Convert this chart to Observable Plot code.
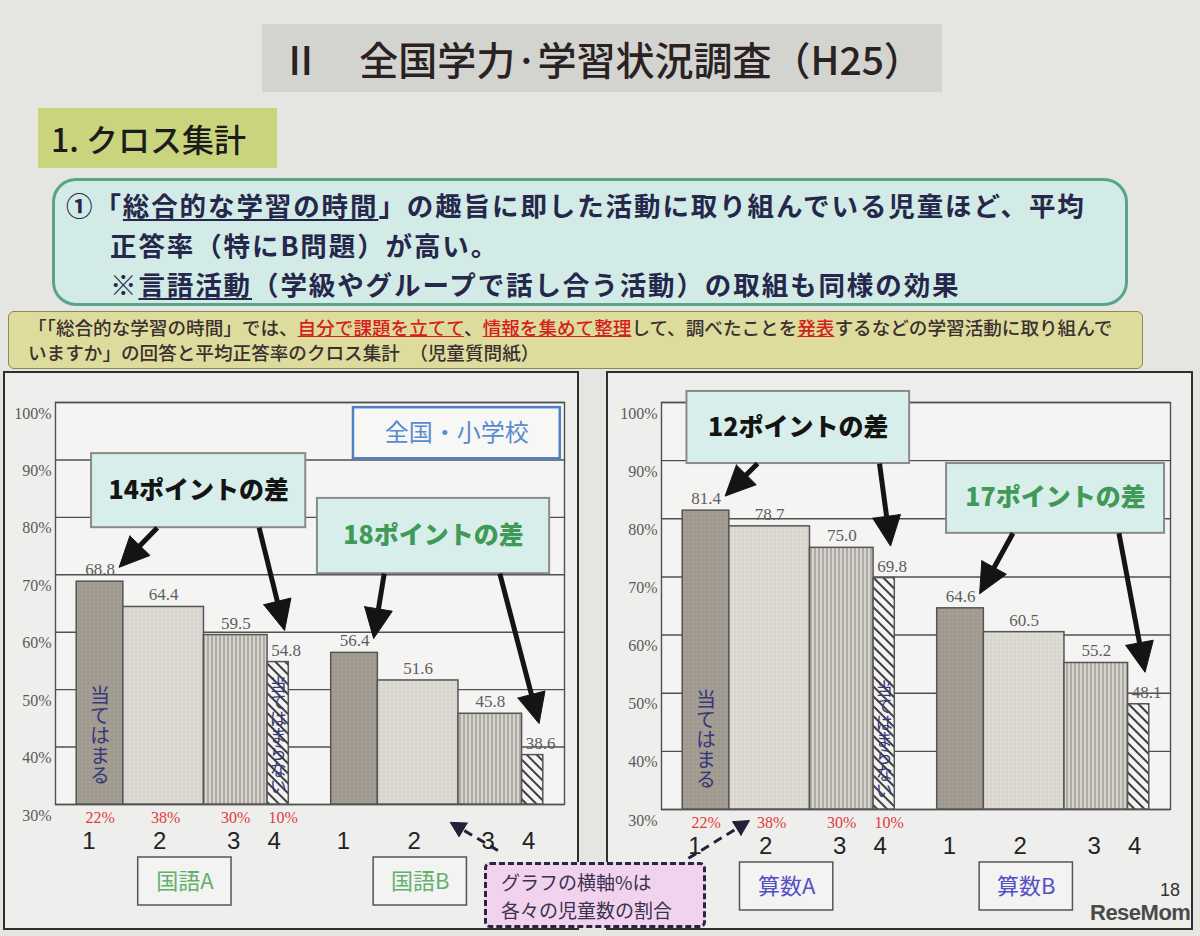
<!DOCTYPE html>
<html><head><meta charset="utf-8">
<script src="https://cdn.jsdelivr.net/npm/d3@7"></script>
<script src="https://cdn.jsdelivr.net/npm/@observablehq/plot@0.6"></script>
<style>
body{margin:0;width:1200px;height:936px;background:#e5e5e2;position:relative;overflow:hidden;font-family:"Noto Sans CJK JP",sans-serif;}
.abs{position:absolute;box-sizing:border-box;white-space:nowrap;}
.title{left:262px;top:24px;width:680px;height:68px;background:#d3d3d0;text-align:center;line-height:68px;font-size:39px;color:#2a2222;font-weight:500;}
.sect{left:38px;top:108px;width:239px;height:60px;background:#c9d47c;font-size:32px;line-height:60px;padding-left:13px;color:#1c1c1c;font-weight:500;}
.gbox{left:52px;top:178px;width:1076px;height:128px;border:3px solid #5aa48a;border-radius:24px;background:#d3ebe7;}
.gline{font-size:26.5px;font-weight:700;color:#25284a;line-height:38px;letter-spacing:1.9px;}
.u{text-decoration:underline;text-decoration-thickness:2px;text-underline-offset:3px;}
.ybox{left:8px;top:311px;width:1135px;height:58px;background:#dddc9c;border:1px solid #8a8a60;border-radius:6px;}
.yline{font-size:18.6px;color:#3a3030;line-height:24px;font-weight:500;}
.red{color:#d61e1e;text-decoration:underline;}
.panel{top:371px;height:559px;border:2px solid #2f2f2f;background:#eeeeec;}
.pink{left:484px;top:862px;width:222px;height:66px;background:#f2d3ee;border:3px dashed #2a2540;border-radius:6px;z-index:5;font-size:19px;color:#3a3050;line-height:28px;padding:3px 0 0 14px;}
.wm{left:1090px;top:900px;font:bold 22px "Liberation Sans",sans-serif;color:#4a4a4a;z-index:6;letter-spacing:-0.5px;}
.pg{left:1160px;top:880px;font:18px "Liberation Sans",sans-serif;color:#333;z-index:4;}
</style></head><body>
<svg width="0" height="0" style="position:absolute">
<defs>
<pattern id="pDark" width="4" height="4" patternUnits="userSpaceOnUse"><rect width="4" height="4" fill="#a39d94"/><circle cx="1" cy="1" r="0.7" fill="#8f8980"/></pattern>
<pattern id="pLight" width="4" height="4" patternUnits="userSpaceOnUse"><rect width="4" height="4" fill="#dddad3"/><circle cx="1" cy="1" r="0.7" fill="#c8c5be"/></pattern>
<pattern id="pVert" width="4" height="4" patternUnits="userSpaceOnUse"><rect width="4" height="4" fill="#d6d3cd"/><line x1="1" y1="0" x2="1" y2="4" stroke="#8e8a84" stroke-width="1.1"/></pattern>
<pattern id="pDiag" width="7" height="7" patternUnits="userSpaceOnUse" patternTransform="rotate(-45)"><rect width="7" height="7" fill="#f3f3f1"/><line x1="1" y1="0" x2="1" y2="7" stroke="#3e3e3e" stroke-width="2"/></pattern>
</defs></svg>

<div class="abs title">Ⅱ　全国学力·学習状況調査（H25）</div>
<div class="abs sect">1. クロス集計</div>
<div class="abs gbox"></div>
<div class="abs gline" style="left:66px;top:186px;">①「<span class="u">総合的な学習の時間</span>」の趣旨に即した活動に取り組んでいる児童ほど、平均</div>
<div class="abs gline" style="left:110px;top:225.5px;">正答率（特にB問題）が高い。</div>
<div class="abs gline" style="left:110px;top:265px;">※<span class="u">言語活動</span>（学級やグループで話し合う活動）の取組も同様の効果</div>
<div class="abs ybox"></div>
<div class="abs yline" style="left:28px;top:315px;">「「総合的な学習の時間」では、<span class="red">自分で課題を立てて</span>、<span class="red">情報を集めて整理</span>して、調べたことを<span class="red">発表</span>するなどの学習活動に取り組んで</div>
<div class="abs yline" style="left:28px;top:340px;">いますか」の回答と平均正答率のクロス集計　（児童質問紙）</div>
<div class="abs panel" style="left:3px;width:576px;"></div>
<div class="abs panel" style="left:606px;width:587px;"></div>
<div class="abs pink">グラフの横軸%は<br>各々の児童数の割合</div>
<div class="abs pg">18</div>
<div class="abs wm">ReseMom</div>

<script>
// ---- data ----
const subjects = ["国語A", "国語B", "算数A", "算数B"];
const responses = ["1", "2", "3", "4"];
const shares = [22, 38, 30, 10];            // % of pupils per response (bar width)
const scoresKokugoA = [68.8, 64.4, 59.5, 54.8];
const scoresKokugoB = [56.4, 51.6, 45.8, 38.6];
const scoresSansuA = [81.4, 78.7, 75.0, 69.8];
const scoresSansuB = [64.6, 60.5, 55.2, 48.1];
const yTicks = [30, 40, 50, 60, 70, 80, 90, 100];
const gapLabels = ["14ポイントの差", "18ポイントの差", "12ポイントの差", "17ポイントの差"];
const inBarLabels = ["当てはまる", "当てはまらない"];
const locationLabel = "全国・小学校";

// ---- layout ----
const fills = ["url(#pDark)", "url(#pLight)", "url(#pVert)", "url(#pDiag)"];
const groupStarts = [10, 130];
const numDx = [-11, -4, -2, -4];   // px
const pctDx = [0, 2, 0, 5];        // px
const valDx = [0, 0, 0, 8];        // px
const panels = [
  {subjects: [0, 1], scores: [scoresKokugoA, scoresKokugoB], left: 3, top: 371, width: 576, height: 559,
   m: {l: 52, r: 15, t: 31, b: 126}, subjColor: "#62b06e", subjCenters: [51, 42],
   callouts: [{x1: 17, x2: 118, y1: 78.2, y2: 91.1, tails: [48, 96]}, {x1: 123.5, x2: 233, y1: 70.2, y2: 83.3, tails: [155, 209.5]}],
   location: {x1: 140.5, x2: 238, y1: 90.2, y2: 99.1},
   dashed: {x1: 208.6, y1: 22, x2: 186.1, y2: 26.9}},
  {subjects: [2, 3], scores: [scoresSansuA, scoresSansuB], left: 606, top: 371, width: 587, height: 559,
   m: {l: 55, r: 23, t: 31, b: 121}, subjColor: "#5450c4", subjCenters: [49, 42],
   callouts: [{x1: 12, x2: 117, y1: 89.5, y2: 101.9, tails: [45.3, 102.8]}, {x1: 134.4, x2: 237.2, y1: 77.5, y2: 89.5, tails: [165.7, 215.7]}],
   location: null,
   dashed: {x1: 12.7, y1: 21.6, x2: 41.5, y2: 28.1}}
];
const calloutColors = ["#141414", "#3f9a58"];

function arrowParts(a, kx, ky, L, W, id) {
  const dxp = (a.x2 - a.x1) * kx, dyp = -(a.y2 - a.y1) * ky;
  const len = Math.hypot(dxp, dyp), ux = dxp / len, uy = dyp / len;
  const toU = (ox, oy) => ({x: a.x2 + ox / kx, y: a.y2 - oy / ky, id});
  const bx = -ux * L, by = -uy * L, px = -uy, py = ux;
  const end = toU(-ux * L * 0.6, -uy * L * 0.6);
  const w1 = toU(bx + px * W, by + py * W), w2 = toU(bx - px * W, by - py * W);
  return {shaft: {x1: a.x1, y1: a.y1, x2: end.x, y2: end.y}, head: [w1, toU(0, 0), w2, w1]};
}

panels.forEach((P, pi) => {
  const kx = (P.width - P.m.l - P.m.r) / 240, ky = (P.height - P.m.t - P.m.b) / 70;
  const below = px => 30 - px / ky;
  const bars = [];
  P.subjects.forEach((s, gi) => {
    let acc = groupStarts[gi];
    responses.forEach((r, ri) => {
      bars.push({subject: subjects[s], group: gi, resp: r, ri, share: shares[ri], value: P.scores[gi][ri],
                 x1: acc, x2: acc + shares[ri], cx: acc + shares[ri] / 2});
      acc += shares[ri];
    });
  });
  const firstGroup = bars.filter(d => d.group === 0);
  const subjBoxes = P.subjects.map((s, gi) => ({label: subjects[s], cx: groupStarts[gi] + P.subjCenters[gi]}));
  const callouts = P.callouts.map((c, gi) => ({...c, label: gapLabels[P.subjects[gi]], color: calloutColors[gi]}));
  const shafts = [], heads = [];
  callouts.forEach((c, gi) => {
    const b1 = bars.find(d => d.group === gi && d.ri === 0), b4 = bars.find(d => d.group === gi && d.ri === 3);
    const targets = [{x: b1.x2 - 2, y: b1.value + 2.5}, {x: b4.cx + 3, y: b4.value + 5.5}];
    targets.forEach((t, k) => {
      const a = arrowParts({x1: c.tails[k], y1: c.y1, x2: t.x, y2: t.y}, kx, ky, 30, 14, `${gi}-${k}`);
      shafts.push(a.shaft); heads.push(...a.head);
    });
  });
  const dash = arrowParts(P.dashed, kx, ky, 15, 8, "d");
  const vLabels = [firstGroup[0], firstGroup[3]].map((d, i) => ({...d, label: inBarLabels[i]}));

  const marks = [
    Plot.frame({fill: "#f4f4f2"}),
    Plot.ruleY(yTicks, {stroke: "#505050", strokeWidth: 1.4}),
    Plot.frame({stroke: "#505050", strokeWidth: 1.4}),
    ...responses.map((r, ri) => Plot.rect(bars.filter(d => d.ri === ri), {x1: "x1", x2: "x2", y1: 30, y2: "value", fill: fills[ri], stroke: "#555", strokeWidth: 1.5})),
    Plot.text(bars, {x: d => d.cx + valDx[d.ri] / kx, y: "value", text: d => d.value.toFixed(1), dy: -12, fontFamily: "Liberation Serif", fontSize: 17, fill: "#5e5e5e"}),
    Plot.text(vLabels.slice(0, 1), {x: "cx", y: 42, text: "label", fontSize: 20, fill: "#36387a"}),
    Plot.text(vLabels.slice(1), {x: "cx", y: 42, text: "label", fontSize: 17, fill: "#36387a"}),
    Plot.text(yTicks, {y: d => d, frameAnchor: "left", text: d => d + "%", textAnchor: "end", dx: -4, dy: 11, fontFamily: "Liberation Serif", fontSize: 16, fill: "#5a5a5a"}),
    Plot.text(firstGroup, {x: d => d.cx + pctDx[d.ri] / kx, frameAnchor: "bottom", lineAnchor: "middle", text: d => d.share + "%", dy: 13, fontFamily: "Liberation Serif", fontSize: 16, fill: "#e03a3a"}),
    Plot.text(bars, {x: d => d.cx + numDx[d.ri] / kx, frameAnchor: "bottom", lineAnchor: "middle", text: "resp", dy: 37, fontFamily: "Liberation Sans", fontSize: 24, fill: "#222"}),
    Plot.rect(subjBoxes, {x1: d => d.cx - 22, x2: d => d.cx + 22, y1: below(53), y2: below(101), fill: "#f3f3f1", stroke: "#555", strokeWidth: 1.5}),
    Plot.text(subjBoxes, {x: "cx", y: below(77), text: "label", fontSize: 22, fill: P.subjColor}),
  ];
  if (P.location) {
    marks.push(Plot.rect([P.location], {x1: "x1", x2: "x2", y1: "y1", y2: "y2", fill: "#f7f7f6", stroke: "#4f7fc4", strokeWidth: 2.5}));
    marks.push(Plot.text([P.location], {x: d => (d.x1 + d.x2) / 2, y: d => (d.y1 + d.y2) / 2, text: () => locationLabel, fontSize: 24, fill: "#5a8ad0"}));
  }
  marks.push(
    Plot.rect(callouts, {x1: "x1", x2: "x2", y1: "y1", y2: "y2", fill: "#d7eeea", stroke: "#8a8a8a", strokeWidth: 2}),
    Plot.text(callouts, {x: d => (d.x1 + d.x2) / 2, y: d => (d.y1 + d.y2) / 2, text: "label", fill: d => d.color, fontSize: 25, fontWeight: 900}),
    Plot.link(shafts, {x1: "x1", y1: "y1", x2: "x2", y2: "y2", stroke: "#141414", strokeWidth: 5}),
    Plot.line(heads, {x: "x", y: "y", z: "id", fill: "#141414", stroke: "#141414", strokeWidth: 1}),
    Plot.link([dash.shaft], {x1: "x1", y1: "y1", x2: "x2", y2: "y2", stroke: "#23203a", strokeWidth: 3, strokeDasharray: "9,6"}),
    Plot.line(dash.head, {x: "x", y: "y", fill: "#23203a", stroke: "#23203a", strokeWidth: 1})
  );

  const chart = Plot.plot({
    width: P.width, height: P.height,
    marginLeft: P.m.l, marginRight: P.m.r, marginTop: P.m.t, marginBottom: P.m.b,
    x: {domain: [0, 240], axis: null},
    y: {domain: [30, 100], axis: null},
    style: {fontFamily: "Noto Sans CJK JP", background: "transparent", overflow: "visible"},
    marks
  });
  chart.querySelectorAll("text").forEach(t => {
    if (inBarLabels.includes(t.textContent)) {
      t.setAttribute("writing-mode", "vertical-rl");
      t.style.setProperty("writing-mode", "vertical-rl");
      t.setAttribute("text-anchor", "middle");
      t.removeAttribute("dy");
      t.removeAttribute("y");
    }
  });
  const holder = document.createElement("div");
  holder.className = "abs";
  holder.style.left = P.left + "px";
  holder.style.top = P.top + "px";
  holder.style.zIndex = 2;
  holder.appendChild(chart);
  document.body.appendChild(holder);
});
</script>
</body></html>
